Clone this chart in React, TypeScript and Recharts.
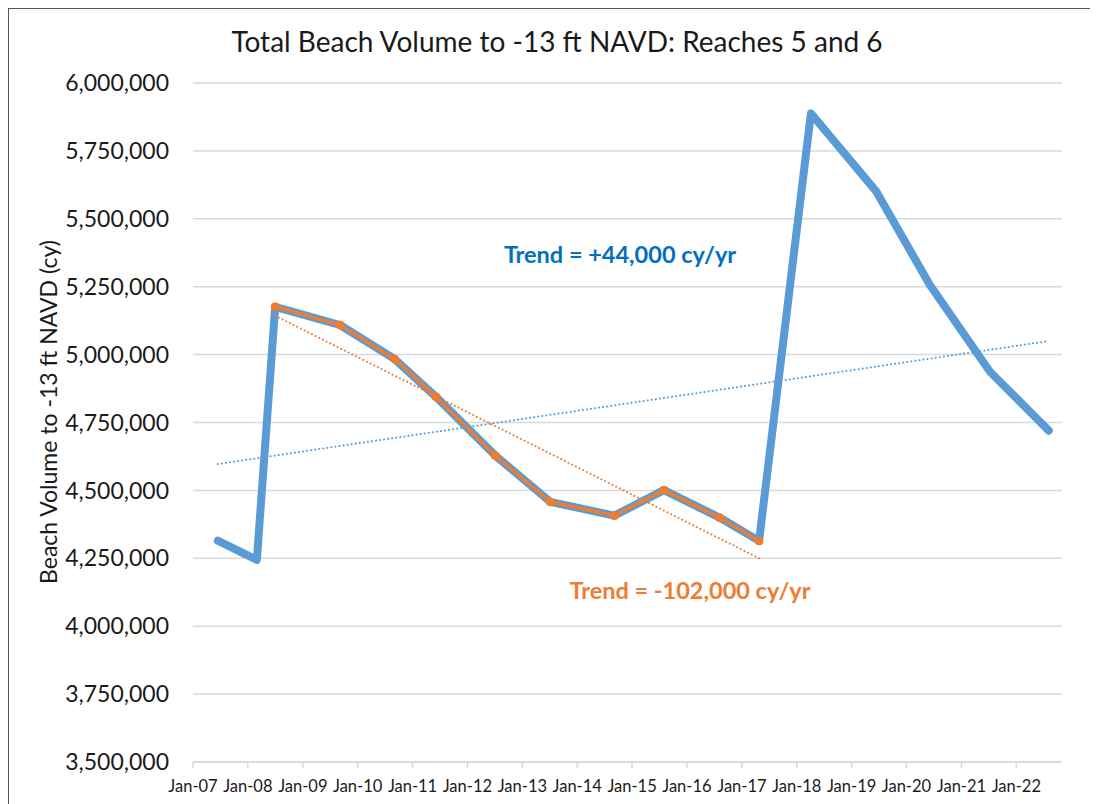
import { CartesianGrid, Line, LineChart, XAxis, YAxis } from 'recharts'

// survey dates and total beach volume (cy), reaches 5 and 6
const surveyDates = [
  '2007-06-15', '2008-03-01', '2008-07-01', '2009-09-05', '2010-09-05', '2011-06-05',
  '2012-07-05', '2013-07-05', '2014-09-05', '2015-08-01', '2016-08-05', '2017-04-25',
  '2018-04-05', '2019-06-15', '2020-06-05', '2021-07-10', '2022-08-05',
]
const totalVolume = [
  4315000, 4244000, 5176000, 5109000, 4983000, 4845000,
  4628000, 4458000, 4407000, 4501000, 4400000, 4314000,
  5888000, 5600000, 5256000, 4937000, 4720000,
]

// 2008-2017 sub-period (orange)
const periodDates = [
  '2008-07-01', '2009-09-05', '2010-09-05', '2011-06-05', '2012-07-05',
  '2013-07-05', '2014-09-05', '2015-08-01', '2016-08-05', '2017-04-25',
]
const periodVolume = [5176000, 5109000, 4983000, 4845000, 4628000, 4458000, 4407000, 4501000, 4400000, 4314000]

// trendline end points
const fullTrendDates = ['2007-06-15', '2022-08-05']
const fullTrendVolume = [4597000, 5050000]
const periodTrendDates = ['2008-07-01', '2017-04-25']
const periodTrendVolume = [5143000, 4250000]

const xTickDates = [
  '2007-01-01', '2008-01-01', '2009-01-01', '2010-01-01', '2011-01-01', '2012-01-01',
  '2013-01-01', '2014-01-01', '2015-01-01', '2016-01-01', '2017-01-01', '2018-01-01',
  '2019-01-01', '2020-01-01', '2021-01-01', '2022-01-01',
]
const xDomain = ['2007-01-01', '2022-11-01']
const yTicks = [3500000, 3750000, 4000000, 4250000, 4500000, 4750000, 5000000, 5250000, 5500000, 5750000, 6000000]

const toTime = (d: string) => Date.parse(d + 'T00:00:00Z')
const toPoints = (dates: string[], values: number[]) =>
  dates.map((d, i) => ({ t: toTime(d), v: values[i] }))

const fmtTick = (t: number) => {
  const d = new Date(t)
  return 'Jan-' + String(d.getUTCFullYear() % 100).padStart(2, '0')
}

const font = 'Lato, "Open Sans", sans-serif'
const blue = '#5B9BD5'
const orange = '#ED7D31'

export default function App() {
  return (
    <div
      style={{
        position: 'relative',
        width: 1090,
        height: 796,
        borderTop: '1px solid #555',
        borderLeft: '1px solid #555',
        boxSizing: 'border-box',
        fontFamily: font,
        background: '#fff',
      }}
    >
      <LineChart width={1089} height={795} margin={{ top: 74, right: 36, left: 0, bottom: 12 }}>
        <CartesianGrid vertical={false} stroke="#D9D9D9" strokeWidth={1.5} />
        <XAxis
          dataKey="t"
          type="number"
          domain={xDomain.map(toTime)}
          ticks={xTickDates.map(toTime)}
          tickFormatter={fmtTick}
          allowDataOverflow
          height={30}
          stroke="#D9D9D9"
          strokeWidth={1.5}
          tickSize={6}
          tickMargin={12}
          tick={{ fill: '#1a1a1a', fontSize: 16.5, fontFamily: font }}
        />
        <YAxis
          type="number"
          domain={[3500000, 6000000]}
          ticks={yTicks}
          width={184}
          axisLine={false}
          tickLine={false}
          tickSize={0}
          tickMargin={24}
          tickFormatter={(v: number) => v.toLocaleString('en-US')}
          tick={{ fill: '#1a1a1a', fontSize: 23, fontFamily: font }}
        />
        <Line
          data={toPoints(surveyDates, totalVolume)}
          dataKey="v"
          stroke={blue}
          strokeWidth={8}
          strokeLinecap="round"
          strokeLinejoin="round"
          dot={false}
          isAnimationActive={false}
        />
        <Line
          data={toPoints(periodDates, periodVolume)}
          dataKey="v"
          stroke={orange}
          strokeWidth={3.5}
          dot={{ r: 4, fill: orange, stroke: orange, strokeWidth: 1 }}
          isAnimationActive={false}
        />
        <Line
          data={toPoints(fullTrendDates, fullTrendVolume)}
          dataKey="v"
          stroke={blue}
          strokeWidth={2}
          strokeDasharray="0.1 4"
          strokeLinecap="round"
          dot={false}
          isAnimationActive={false}
        />
        <Line
          data={toPoints(periodTrendDates, periodTrendVolume)}
          dataKey="v"
          stroke={orange}
          strokeWidth={2}
          strokeDasharray="0.1 4"
          strokeLinecap="round"
          dot={false}
          isAnimationActive={false}
        />
      </LineChart>

      <div style={{ position: 'absolute', left: 548, top: 32, transform: 'translate(-50%, -50%)', whiteSpace: 'nowrap', fontSize: 28, color: '#1a1a1a' }}>
        Total Beach Volume to -13 ft NAVD: Reaches 5 and 6
      </div>
      <div style={{ position: 'absolute', left: 39, top: 403, transform: 'translate(-50%, -50%) rotate(-90deg)', whiteSpace: 'nowrap', fontSize: 23, color: '#1a1a1a' }}>
        Beach Volume to -13 ft NAVD (cy)
      </div>
      <div style={{ position: 'absolute', left: 611, top: 245, transform: 'translate(-50%, -50%)', whiteSpace: 'nowrap', fontSize: 23.5, fontWeight: 700, color: '#0070C0' }}>
        Trend = +44,000 cy/yr
      </div>
      <div style={{ position: 'absolute', left: 681, top: 581, transform: 'translate(-50%, -50%)', whiteSpace: 'nowrap', fontSize: 23.5, fontWeight: 700, color: orange }}>
        Trend = -102,000 cy/yr
      </div>
    </div>
  )
}
